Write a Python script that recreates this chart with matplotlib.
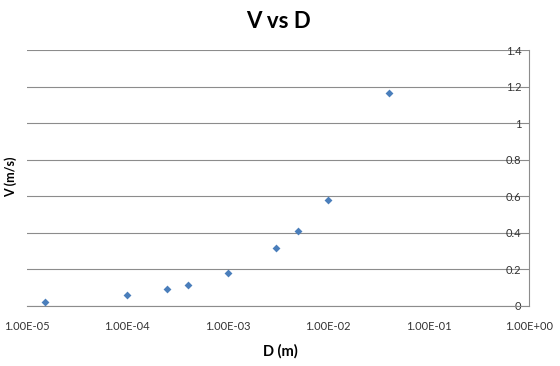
import matplotlib
matplotlib.use("Agg")
import matplotlib.pyplot as plt
from matplotlib.ticker import FixedLocator, FuncFormatter, NullLocator

# data
diameter = [1.5e-5, 1e-4, 2.5e-4, 4e-4, 1e-3, 3e-3, 5e-3, 1e-2, 4e-2]
velocity = [0.022, 0.058, 0.091, 0.117, 0.182, 0.316, 0.41, 0.578, 1.163]
x_ticks = [1e-5, 1e-4, 1e-3, 1e-2, 1e-1, 1e0]
y_ticks = [0, 0.2, 0.4, 0.6, 0.8, 1, 1.2, 1.4]

plt.rcParams['font.family'] = ['Lato', 'DejaVu Sans']
grey = "#8c8c8c"
text_col = "#333333"

fig = plt.figure(figsize=(5.6, 3.66), dpi=100)
ax = fig.add_axes([0.048, 0.164, 0.897, 0.699])

ax.scatter(diameter, velocity, marker="D", s=16, color="#4a7ebb", zorder=3,
           linewidths=0)

ax.set_xscale("log")
ax.set_xlim(1e-5, 1)
ax.set_ylim(0, 1.4)
ax.xaxis.set_major_locator(FixedLocator(x_ticks))
ax.xaxis.set_minor_locator(NullLocator())
ax.xaxis.set_major_formatter(FuncFormatter(lambda v, p: f"{v:.2E}"))
ax.set_yticks(y_ticks)
ax.yaxis.set_major_formatter(FuncFormatter(lambda v, p: f"{v:g}"))

# y labels sit just inside the right-hand axis line
ax.yaxis.tick_right()
ax.tick_params(axis="y", length=0, pad=-5.5, labelsize=8, labelcolor=text_col)
for lab in ax.get_yticklabels():
    lab.set_horizontalalignment("right")
ax.tick_params(axis="x", length=0, pad=10.5, labelsize=8, labelcolor=text_col)

ax.grid(axis="y", color=grey, linewidth=0.8)
ax.set_axisbelow(True)
for side in ["top", "left"]:
    ax.spines[side].set_visible(False)
ax.spines["right"].set_color(grey)
ax.spines["bottom"].set_color(grey)
ax.spines["right"].set_linewidth(0.8)
ax.spines["bottom"].set_linewidth(0.8)

fig.text(0.497, 0.94, "V vs D", ha="center", va="center", fontsize=16,
         fontweight="bold", color="black")
fig.text(0.5, 0.04, "D (m)", ha="center", va="center", fontsize=10.5,
         fontweight="bold", color="black")
fig.text(0.02, 0.516, "V (m/s)", ha="center", va="center", rotation=90,
         fontsize=9, fontweight="bold", color="black")

fig.savefig("out.png", dpi=100)
